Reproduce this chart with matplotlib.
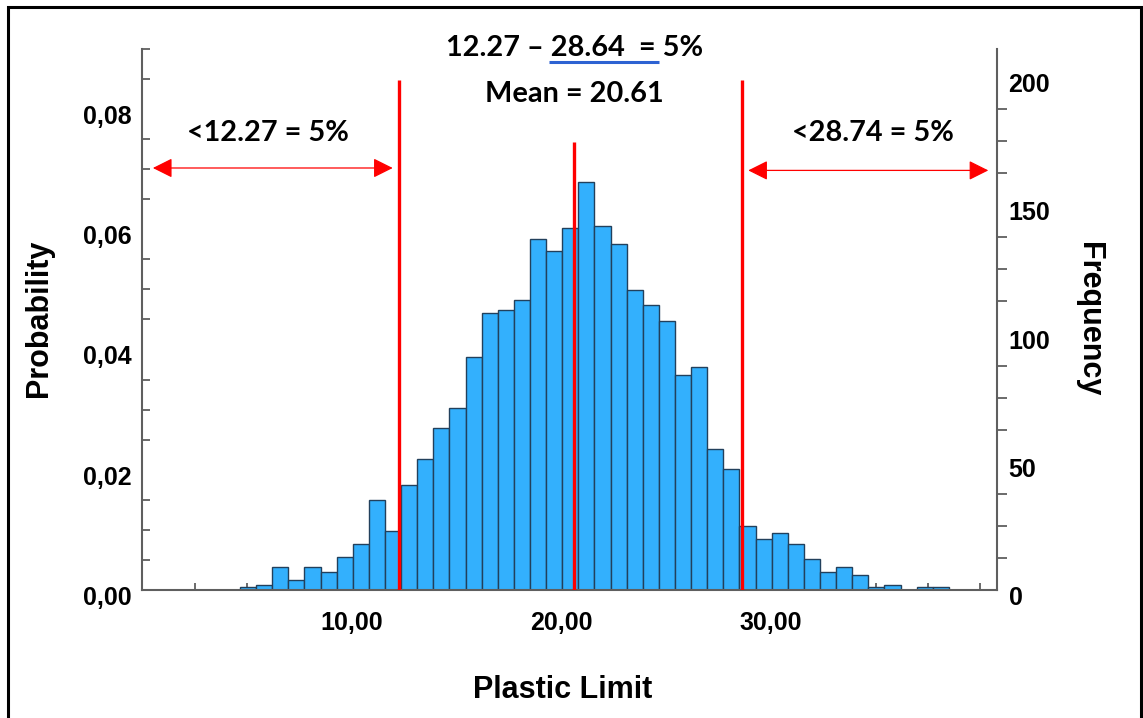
import matplotlib
matplotlib.use('Agg')
import matplotlib.pyplot as plt
from matplotlib.patches import Rectangle
from matplotlib.ticker import MultipleLocator
from matplotlib.transforms import ScaledTranslation

# histogram of Plastic Limit (counts per bin)
freq = [1, 2, 9, 4, 9, 7, 13, 18, 35, 23, 41, 51, 63, 71, 91, 108, 109, 113, 137, 132,
        141, 159, 142, 135, 117, 111, 105, 84, 87, 55, 47, 25, 20, 22, 18, 12, 7, 9, 6, 1,
        2, 0, 1, 1]
bin_start = 4.66
bin_width = 0.769
total = sum(freq)

# cut values (5% lower, mean, 5% upper) and how high the red lines go
cut_values = [12.27, 20.61, 28.64]
cut_tops = [0.0848, 0.0746, 0.0848]

x_ticks = [10, 20, 30]
x_labels = ['10,00', '20,00', '30,00']
p_ticks = [0, 0.02, 0.04, 0.06, 0.08]
p_labels = ['0,00', '0,02', '0,04', '0,06', '0,08']
f_ticks = [0, 50, 100, 150, 200]

W, H = 1143, 718
fig = plt.figure(figsize=(W / 100, H / 100), dpi=100)
ax = fig.add_axes([142.4 / W, (H - 589.9) / H, (996.7 - 142.4) / W, (589.9 - 49) / H])

edges = [bin_start + i * bin_width for i in range(len(freq))]
prob = [f / total for f in freq]
ax.bar(edges, prob, width=bin_width, align='edge', color='#33b0fd',
       edgecolor='#22405c', linewidth=1.0, zorder=2)

ax.set_xlim(0, 40.78)
ax.set_ylim(0, 0.09)
ax.set_axisbelow(True)

for s in ['top', 'right']:
    ax.spines[s].set_visible(False)
for s in ['left', 'bottom']:
    ax.spines[s].set_color('#5f5f5f')
    ax.spines[s].set_linewidth(1.5)

tick_font = dict(family='Liberation Sans', weight='bold', size=18)

ax.set_xticks(x_ticks)
ax.set_xticklabels(x_labels, **tick_font)
ax.set_yticks(p_ticks)
ax.set_yticklabels(p_labels, **tick_font)
ax.xaxis.set_minor_locator(MultipleLocator(2.5))
ax.yaxis.set_minor_locator(MultipleLocator(0.005))
ax.tick_params(which='major', length=0)
ax.tick_params(axis='x', which='major', pad=15)
ax.tick_params(axis='y', which='major', pad=7.5)
ax.tick_params(which='minor', direction='in', color='#5f5f5f', width=1.3)
ax.tick_params(axis='x', which='minor', length=5)
ax.tick_params(axis='y', which='minor', length=6)

# frequency axis on the right
sec = ax.secondary_yaxis('right', functions=(lambda p: p * total, lambda f: f / total))
sec.set_yticks(f_ticks)
sec.set_yticklabels([str(t) for t in f_ticks], **tick_font)
sec.yaxis.set_minor_locator(MultipleLocator(12.5))
sec.spines['right'].set_color('#5f5f5f')
sec.spines['right'].set_linewidth(1.5)
sec.tick_params(which='major', length=0, pad=8.5)
sec.tick_params(which='minor', direction='out', length=7, color='#5f5f5f', width=1.3)

# tick labels sit a little under their tick position
for lbl in ax.get_yticklabels() + sec.get_yticklabels():
    lbl.set_verticalalignment('baseline')
    lbl.set_transform(lbl.get_transform() + ScaledTranslation(0, -15 / 100, fig.dpi_scale_trans))

fig.text(563 / W, 1 - 690 / H, 'Plastic Limit', ha='center', va='center',
         family='Liberation Sans', weight='bold', size=22)
fig.text(39 / W, 1 - 318 / H, 'Probability', ha='center', va='center', rotation=90,
         family='Liberation Sans', weight='bold', size=22)
fig.text(1089 / W, 1 - 319 / H, 'Frequency', ha='center', va='center', rotation=-90,
         family='Liberation Sans', weight='bold', size=22)

# red cut lines
ax.vlines(cut_values, 0, cut_tops, colors='red', linewidth=2.4, zorder=3)

arrow = dict(arrowstyle='<|-|>,head_length=1.2,head_width=0.6', color='red',
             lw=0.9, mutation_scale=10, shrinkA=0, shrinkB=0)
ax.annotate('', xy=(11.95, 0.0702), xytext=(0.5, 0.0702), arrowprops=arrow)
ax.annotate('', xy=(40.38, 0.0698), xytext=(28.92, 0.0698), arrowprops=arrow,
            annotation_clip=False)

note_font = dict(family='Lato', weight='bold', size=20.8, color='black')
ax.text(6.01, 0.0761, '<12.27 = 5%', ha='center', va='center', **note_font)
ax.text(34.86, 0.0761, '<28.74 = 5%', ha='center', va='center', **note_font)
ax.text(20.61, 0.0825, 'Mean = 20.61', ha='center', va='center', **note_font)
ax.text(20.61, 0.0901, '12.27 \u2013 28.64  = 5%', ha='center', va='center',
        clip_on=False, **note_font)
ax.plot([19.4, 24.65], [0.0878, 0.0878], color='#2d62d2', lw=2.2,
        solid_capstyle='butt', clip_on=False)

# black frame around the whole picture
fig.add_artist(Rectangle((7.5 / W, -0.05), (1141 - 7.5) / W, 1.05 - 6.5 / H,
                         transform=fig.transFigure, fill=False, ec='black', lw=2.2))

fig.savefig('out.png', dpi=100)
